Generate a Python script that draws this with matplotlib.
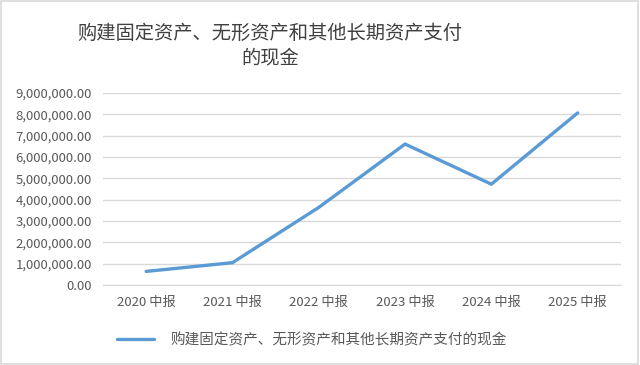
import matplotlib
matplotlib.use("Agg")
import matplotlib.pyplot as plt
from matplotlib.patches import Rectangle
from matplotlib.ticker import FuncFormatter

plt.rcParams['font.family'] = ['Noto Sans CJK SC', 'DejaVu Sans']

categories = ["2020 中报", "2021 中报", "2022 中报", "2023 中报", "2024 中报", "2025 中报"]
values = [640000, 1050000, 3640000, 6610000, 4730000, 8070000]
series_name = "购建固定资产、无形资产和其他长期资产支付的现金"
title = "购建固定资产、无形资产和其他长期资产支付\n的现金"

fig = plt.figure(figsize=(6.4, 3.65), dpi=100)
fig.patches.append(Rectangle((0.002, 0.003), 0.995, 0.993, transform=fig.transFigure,
                             fill=False, edgecolor='#d9d9d9', linewidth=1.2))

ax = fig.add_axes([0.161, 0.219, 0.809, 0.526])
x = list(range(len(categories)))
ax.plot(x, values, color='#5B9BD5', linewidth=2.4, solid_capstyle='round',
        solid_joinstyle='miter', label=series_name)
ax.set_xlim(-0.5, len(categories) - 0.5)
ax.set_ylim(0, 9000000)
ax.set_yticks([i * 1000000 for i in range(10)])
ax.yaxis.set_major_formatter(FuncFormatter(lambda v, p: f"{v:,.2f}"))
ax.set_xticks(x)
ax.set_xticklabels(categories)
ax.grid(axis='y', color='#d9d9d9', linewidth=1)
ax.set_axisbelow(True)
for s in ['top', 'right', 'left']:
    ax.spines[s].set_visible(False)
ax.spines['bottom'].set_color('#d9d9d9')
ax.tick_params(axis='both', length=0, colors='#595959', labelsize=9.5)
ax.tick_params(axis='y', pad=8)
ax.tick_params(axis='x', pad=8)

fig.text(0.422, 0.875, title, ha='center', va='center', fontsize=13.9,
         color='#404040', linespacing=1.25)

leg = fig.legend(loc='center', bbox_to_anchor=(0.4875, 0.068), frameon=False,
                 fontsize=10.5, handlelength=2.5, handletextpad=1.15)
for t in leg.get_texts():
    t.set_color('#595959')

fig.savefig("out.png", dpi=100)
